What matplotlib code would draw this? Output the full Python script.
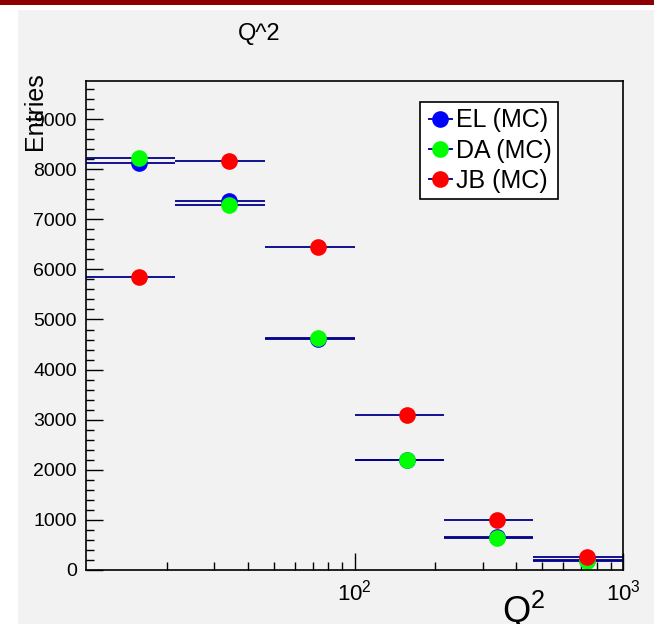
import numpy as np
import matplotlib
matplotlib.use("Agg")
import matplotlib.pyplot as plt
from matplotlib.patches import Rectangle
from matplotlib.ticker import FixedLocator, FixedFormatter, MultipleLocator, LogLocator, NullFormatter

plt.rcParams['font.family'] = ['Liberation Sans', 'DejaVu Sans']
plt.rcParams['mathtext.fontset'] = 'custom'
plt.rcParams['mathtext.rm'] = 'Liberation Sans'
plt.rcParams['mathtext.it'] = 'Liberation Sans:italic'

# Q^2 bin edges (log-spaced) and entries per bin for each reconstruction method
bin_edges = [10, 21.5, 46.4, 100, 215, 464, 1000]
el_counts = [8130, 7370, 4610, 2200, 660, 195]
da_counts = [8230, 7290, 4630, 2190, 630, 180]
jb_counts = [5840, 8170, 6450, 3100, 1000, 257]

series = [
    ("EL (MC)", el_counts, "#0000ff"),
    ("DA (MC)", da_counts, "#00ff00"),
    ("JB (MC)", jb_counts, "#ff0000"),
]

edges = np.array(bin_edges, dtype=float)
centers = 0.5 * (edges[:-1] + edges[1:])
half_w = 0.5 * (edges[1:] - edges[:-1])

fig = plt.figure(figsize=(6.54, 6.24), dpi=100)
fig.patch.set_facecolor("white")
# canvas panel and the red strip at the top
fig.patches.append(Rectangle((18 / 654, 0), 1 - 18 / 654, 1 - 10 / 624,
                             transform=fig.transFigure, facecolor="#f2f2f2",
                             edgecolor="none", zorder=-10))
fig.patches.append(Rectangle((0, 1 - 5 / 624), 1, 5 / 624,
                             transform=fig.transFigure, facecolor="#8b0000",
                             edgecolor="none", zorder=-10))

ax = fig.add_axes([86 / 654, 1 - 570 / 624, (623 - 86) / 654, (570 - 81) / 624])
ax.set_facecolor("#f2f2f2")

handles = []
for label, counts, color in series:
    h = ax.errorbar(centers, counts, xerr=half_w,
                    fmt="o", color=color, ecolor="#00008b", elinewidth=1.3,
                    capsize=0, markersize=12, markeredgewidth=0, label=label)
    handles.append(h)

ax.set_xscale("log")
ax.set_xlim(10, 1000)
ax.set_ylim(0, 9760)

ax.xaxis.set_major_locator(FixedLocator([100, 1000]))
ax.xaxis.set_major_formatter(
    FixedFormatter([r"$\mathdefault{10^{2}}$", r"$\mathdefault{10^{3}}$"]))
ax.xaxis.set_minor_locator(LogLocator(base=10, subs=np.arange(2, 10)))
ax.xaxis.set_minor_formatter(NullFormatter())
ax.yaxis.set_major_locator(MultipleLocator(1000))
ax.yaxis.set_minor_locator(MultipleLocator(200))

ax.tick_params(which="both", direction="in", top=False, right=False, width=1.0,
               colors="black")
ax.tick_params(which="major", length=12)
ax.tick_params(which="minor", length=6)
ax.tick_params(axis="y", which="major", labelsize=14, pad=6.5)
ax.tick_params(axis="x", which="major", labelsize=16, pad=7)
for sp in ax.spines.values():
    sp.set_linewidth(1.2)

leg = ax.legend(handles=handles, loc="upper left", bbox_to_anchor=(0.622, 0.957),
                fontsize=18, frameon=True, fancybox=False, borderpad=0.25,
                handlelength=1.1, handletextpad=0.1, labelspacing=0.25,
                borderaxespad=0)
leg.get_frame().set_facecolor("white")
leg.get_frame().set_edgecolor("black")
leg.get_frame().set_linewidth(1.2)
leg.get_frame().set_alpha(1)

fig.text(259 / 654, 1 - 40 / 624, "Q^2", ha="center", va="baseline", fontsize=17)
fig.text(35 / 654, 1 - 72 / 624, "Entries", rotation=90, ha="center", va="top",
         fontsize=18)
fig.text(545 / 654, 1 / 624, r"Q$^{\mathdefault{2}}$", ha="right", va="baseline",
         fontsize=26)

fig.savefig("out.png", dpi=100, facecolor=fig.get_facecolor())
